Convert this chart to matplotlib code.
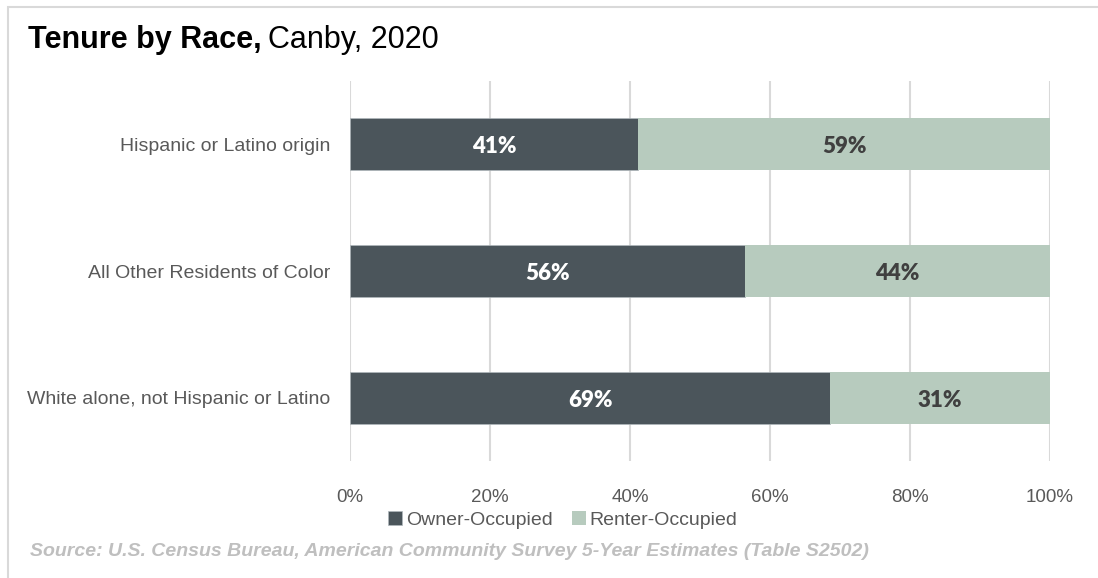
import matplotlib.pyplot as plt
from matplotlib.patches import Rectangle

categories = [
    "Hispanic or Latino origin",
    "All Other Residents of Color",
    "White alone, not Hispanic or Latino",
]
owner = [41.2, 56.4, 68.6]
renter = [58.8, 43.6, 31.4]
xticks = [0, 20, 40, 60, 80, 100]

owner_color = "#4b555b"
renter_color = "#b7cbbe"
sans = ["Liberation Sans", "DejaVu Sans"]

fig = plt.figure(figsize=(10.98, 5.78), dpi=100)
ax = fig.add_axes([350 / 1098, 117 / 578, 700 / 1098, 380 / 578])

# light frame around the chart
fig.patches.append(Rectangle((8 / 1098, -0.1), 1.2, (578 - 7) / 578 + 0.1,
                             transform=fig.transFigure, fill=False,
                             edgecolor="#d9d9d9", linewidth=1.5))

y = list(range(len(categories)))
b1 = ax.barh(y, owner, height=0.41, color=owner_color, label="Owner-Occupied",
             edgecolor="#b0b8bc", linewidth=0.5)
b2 = ax.barh(y, renter, left=owner, height=0.41, color=renter_color,
             label="Renter-Occupied")

for i in y:
    ax.text(owner[i] / 2, i + 0.02, f"{round(owner[i])}%", ha="center",
            va="center", color="white", fontsize=16, fontweight="heavy",
            family="Lato")
    ax.text(owner[i] + renter[i] / 2, i + 0.02, f"{round(renter[i])}%",
            ha="center", va="center", color="#404040", fontsize=16,
            fontweight="heavy", family="Lato")

ax.set_xlim(0, 100)
ax.set_ylim(2.5, -0.5)
ax.set_xticks(xticks)
ax.set_xticklabels([f"{t}%" for t in xticks], family=sans, fontsize=13.5,
                   color="#595959")
ax.set_yticks(y)
ax.set_yticklabels(categories, family=sans, fontsize=14, color="#595959")
ax.tick_params(axis="both", length=0)
ax.tick_params(axis="x", pad=20)
ax.tick_params(axis="y", pad=14)
ax.xaxis.grid(True, color="#d9d9d9", linewidth=1.5)
ax.set_axisbelow(True)
for s in ax.spines.values():
    s.set_visible(False)

t = fig.text(28 / 1098, 1 - 48 / 578, "Tenure by Race,", fontsize=22,
             family=sans, fontweight="bold", va="baseline", color="black")
fig.canvas.draw()
bb = t.get_window_extent()
fig.text((bb.x1 + 6) / 1098, 1 - 48 / 578, "Canby, 2020", fontsize=22,
         family=sans, va="baseline", color="black")

leg = fig.legend(handles=[b1, b2], loc="center",
                 bbox_to_anchor=(563 / 1098, 1 - 520 / 578),
                 ncol=2, frameon=False, handlelength=0.7, handleheight=0.7,
                 handletextpad=0.2, columnspacing=1.0,
                 prop={"family": sans, "size": 14})
for txt in leg.get_texts():
    txt.set_color("#595959")

fig.text(30 / 1098, 1 - 551 / 578,
         "Source: U.S. Census Bureau, American Community Survey 5-Year Estimates (Table S2502)",
         fontsize=14, family=sans, style="italic", fontweight="bold",
         color="#bfbfbf", va="center")

fig.savefig("out.png", dpi=100)
